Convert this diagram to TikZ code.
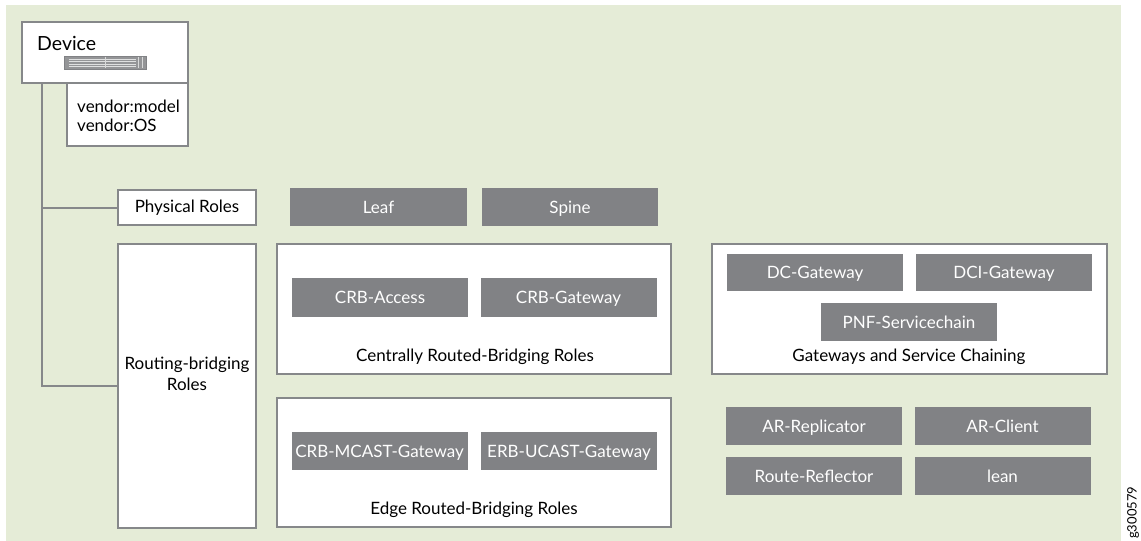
\documentclass[tikz,border=0pt]{standalone}
\usepackage{fontspec}
\setmainfont{Lato}
\usetikzlibrary{calc}
\definecolor{bggreen}{HTML}{E5ECD7}
\definecolor{boxgray}{HTML}{818285}
\definecolor{linegray}{HTML}{86888A}
\tikzset{
  graybox/.style={fill=boxgray, draw=none, text=white, minimum width=176pt, minimum height=38pt, inner sep=0pt, text height=16pt, text depth=4pt, font=\fontsize{17}{21}\selectfont},
  whitebox/.style={fill=white, draw=linegray, line width=2pt, inner sep=0pt},
  lbl/.style={inner sep=0pt, font=\fontsize{17}{21}\selectfont, text=black},
  treeline/.style={draw=linegray, line width=2pt}
}
\begin{document}
\begin{tikzpicture}[x=1pt,y=-1pt]
\useasboundingbox (0,0) rectangle (1141,541);
\fill[bggreen] (6,5) rectangle (1121,541);
% device
\node[whitebox, minimum width=121pt, minimum height=63pt] (vend) at (127.5,114.5) {};
\node[whitebox, minimum width=166pt, minimum height=61pt] (dev) at (105,52.5) {};
\node[lbl, anchor=base west, font=\fontsize{19.5}{22}\selectfont] (devt) at (37,50) {Device};
\node[lbl, anchor=base west] (vm) at (77,112) {vendor:model};
\node[lbl, anchor=base west] (vo) at (77,131) {vendor:OS};
% device icon
\node[fill=boxgray!85, draw=boxgray, line width=0.8pt, minimum width=82pt, minimum height=13pt, inner sep=0pt] (icon) at (105,62.5) {};
\foreach \yy in {59,61.5,64,66.5}{\draw[white!75!boxgray, line width=0.6pt] ($(icon.west)+(5,\yy-62.5)$) -- ($(icon.east)+(-10,\yy-62.5)$);}
\draw[white!70!boxgray, line width=1pt] ($(icon.north)+(0,1)$) -- ($(icon.south)+(0,-1)$);
\draw[white!70!boxgray, line width=0.8pt] ($(icon.north east)+(-8,1)$) -- ($(icon.south east)+(-8,-1)$);
\draw[white!70!boxgray, line width=0.8pt] ($(icon.north east)+(-4,1)$) -- ($(icon.south east)+(-4,-1)$);
% roles
\node[whitebox, minimum width=138pt, minimum height=35pt] (phys) at (187,207.5) {};
\node[lbl] (physt) at (phys.center) {Physical Roles};
\node[whitebox, minimum width=138pt, minimum height=284pt] (rb) at (187,386) {};
\node[lbl, align=center] (rbt) at (187,374) {Routing-bridging\\Roles};
% tree
\coordinate (trunk) at ($(dev.south west)+(21,0)$);
\draw[treeline] (trunk) |- (phys.west);
\draw[treeline] (trunk) |- (rb.west);
% physical
\node[graybox, minimum width=177pt] (leaf) at (378.5,207) {Leaf};
\node[graybox] (spine) at (570,207) {Spine};
% CRB
\node[whitebox, minimum width=394pt, minimum height=130pt] (crb) at (474,309) {};
\node[graybox, minimum height=39pt] (crba) at (380,297.5) {CRB-Access};
\node[graybox, minimum height=39pt] (crbg) at (568.5,297.5) {CRB-Gateway};
\node[lbl] (crbt) at (475,357) {Centrally Routed-Bridging Roles};
% ERB
\node[whitebox, minimum width=394pt, minimum height=129pt] (erb) at (474,462.5) {};
\node[graybox] (mcast) at (379.5,451) {CRB-MCAST-Gateway};
\node[graybox] (ucast) at (569,451) {ERB-UCAST-Gateway};
\node[lbl] (erbt) at (474,510) {Edge Routed-Bridging Roles};
% gateways
\node[whitebox, minimum width=395pt, minimum height=130pt] (gw) at (909.5,309) {};
\node[graybox, minimum height=37pt] (dcg) at (815,272.5) {DC-Gateway};
\node[graybox, minimum height=37pt] (dcig) at (1004,272.5) {DCI-Gateway};
\node[graybox] (pnf) at (909,322) {PNF-Servicechain};
\node[lbl] (gwt) at (909,357) {Gateways and Service Chaining};
% others
\node[graybox] (arr) at (814,426) {AR-Replicator};
\node[graybox] (arc) at (1002.5,426) {AR-Client};
\node[graybox] (rr) at (814,476) {Route-Reflector};
\node[graybox] (lean) at (1002.5,476) {lean};
% figure id
\node[lbl, rotate=90, anchor=west, font=\fontsize{13}{15}\selectfont] (gid) at (1133,539) {g300579};
\end{tikzpicture}
\end{document}
